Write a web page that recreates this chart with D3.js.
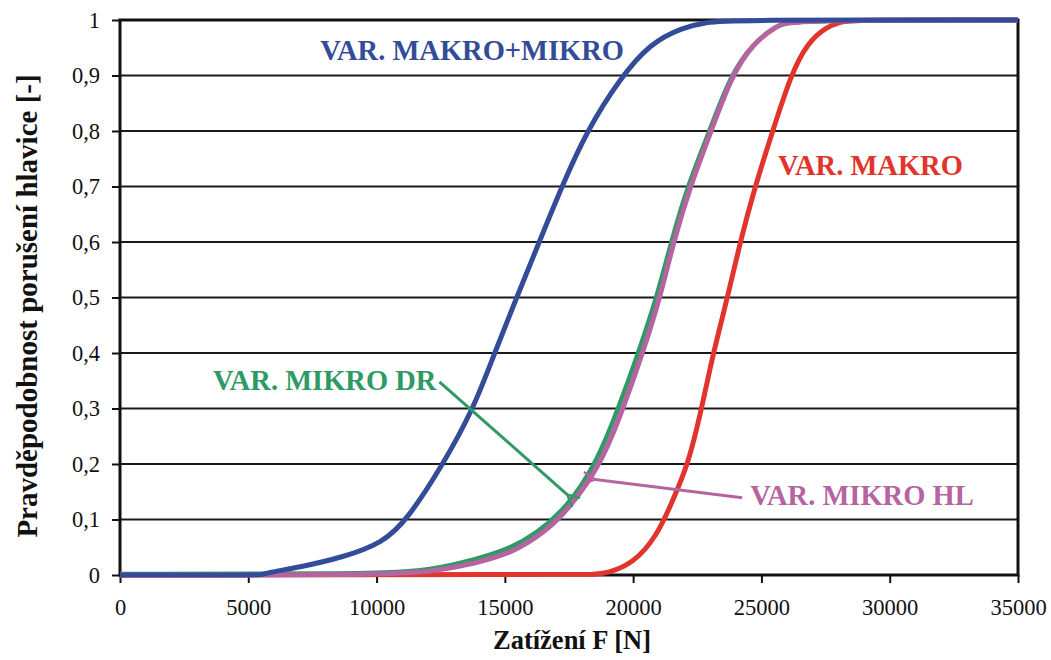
<!DOCTYPE html>
<html>
<head>
<meta charset="utf-8">
<script src="https://cdn.jsdelivr.net/npm/d3@7"></script>
<style>
  body { margin: 0; background: #fff; }
  svg text { font-family: "Liberation Serif", "DejaVu Serif", serif; }
  .tick-label { font-size: 22.5px; fill: #111; }
  .axis-title { font-weight: bold; fill: #111; }
  .curve-label { font-size: 28.5px; font-weight: bold; }
</style>
</head>
<body>
<div id="chart"></div>
<script>
// Pravděpodobnost porušení hlavice vs. zatížení F

// load [N]
const xTicks = [0, 5000, 10000, 15000, 20000, 25000, 30000, 35000];
const yTicks = [0, 0.1, 0.2, 0.3, 0.4, 0.5, 0.6, 0.7, 0.8, 0.9, 1];

const makroMikroF = [0, 5000, 5500, 5730, 7000, 8700, 10250, 11200, 12600, 13780, 14600, 15460, 16340, 17220, 18190, 19490, 20660, 21940, 22880, 23660, 35000];
const makroMikroP = [0, 0, 0, 0.004, 0.014, 0.032, 0.058, 0.10, 0.20, 0.30, 0.40, 0.50, 0.60, 0.70, 0.80, 0.895, 0.958, 0.987, 0.996, 1, 1];

const mikroDrF = [0, 9000, 10900, 12200, 13760, 15080, 16250, 17420, 18550, 19420, 20200, 20920, 21480, 22110, 22980, 23780, 24670, 25610, 26120, 35000];
const mikroDrP = [0.002, 0.002, 0.005, 0.01, 0.027, 0.045, 0.075, 0.122, 0.20, 0.30, 0.40, 0.50, 0.60, 0.70, 0.80, 0.90, 0.958, 0.99, 1, 1];

const mikroHlF = [0, 10000, 12200, 13760, 15320, 16640, 17540, 18750, 19610, 20370, 21050, 21570, 22220, 23040, 23840, 24670, 25610, 26120, 35000];
const mikroHlP = [0, 0, 0.006, 0.02, 0.04, 0.08, 0.122, 0.20, 0.30, 0.40, 0.50, 0.60, 0.70, 0.80, 0.90, 0.958, 0.99, 1, 1];

const makroF = [0, 17500, 18500, 18980, 19990, 20930, 21550, 22150, 22670, 23120, 23680, 24170, 24750, 25440, 26140, 26770, 27550, 28070, 28450, 35000];
const makroP = [0, 0.001, 0.001, 0.003, 0.02, 0.07, 0.135, 0.20, 0.30, 0.40, 0.50, 0.60, 0.70, 0.80, 0.90, 0.958, 0.988, 0.996, 1, 1];

// label text, colour, anchor (data coords)
const series = [
  { name: 'VAR. MAKRO', F: makroF, P: makroP, color: '#e0342c', width: 5, label: [25650, 0.721] },
  { name: 'VAR. MIKRO DR', F: mikroDrF, P: mikroDrP, color: '#2f9a66', width: 4.5, label: [3620, 0.333] },
  { name: 'VAR. MIKRO HL', F: mikroHlF, P: mikroHlP, color: '#b5649f', width: 5, label: [24560, 0.126] },
  { name: 'VAR. MAKRO+MIKRO', F: makroMikroF, P: makroMikroP, color: '#334c98', width: 5, label: [7800, 0.928] }
];

// arrows: [from F, from P, to F, to P]
const arrowDr = [12450, 0.348, 17430, 0.145];
const arrowHl = [24250, 0.139, 18520, 0.172];

const width = 1051;
const height = 660;
const margin = { top: 20, right: 33, bottom: 85, left: 120 };
const innerWidth = width - margin.left - margin.right;
const innerHeight = height - margin.top - margin.bottom;

const svg = d3.select('#chart')
  .append('svg')
  .attr('width', width)
  .attr('height', height)
  .style('display', 'block');

const defs = svg.append('defs');
series.forEach((s, i) => {
  defs.append('marker')
    .attr('id', 'arrow' + i)
    .attr('viewBox', '0 0 10 10')
    .attr('refX', 1)
    .attr('refY', 5)
    .attr('markerWidth', 5)
    .attr('markerHeight', 5)
    .attr('orient', 'auto-start-reverse')
    .attr('markerUnits', 'strokeWidth')
    .append('path')
    .attr('d', 'M9,1 L1,5 L9,9')
    .attr('fill', 'none')
    .attr('stroke', s.color)
    .attr('stroke-width', 1.6);
});

const g = svg.append('g')
  .attr('transform', `translate(${margin.left},${margin.top})`);

const x = d3.scaleLinear().domain([0, 35000]).range([0, innerWidth]);
const y = d3.scaleLinear().domain([0, 1]).range([innerHeight, 0]);

// gridlines
g.selectAll('.grid')
  .data(yTicks)
  .enter().append('line')
  .attr('x1', 0)
  .attr('x2', innerWidth)
  .attr('y1', d => y(d))
  .attr('y2', d => y(d))
  .attr('stroke', '#1a1a1a')
  .attr('stroke-width', 2);

// axes
const yAxis = g.append('g')
  .call(d3.axisLeft(y).tickValues(yTicks).tickSize(8).tickPadding(12)
    .tickFormat(d => d3.format('.1~f')(d).replace('.', ',')));
const xAxis = g.append('g')
  .attr('transform', `translate(0,${innerHeight})`)
  .call(d3.axisBottom(x).tickValues(xTicks).tickSize(8).tickPadding(16).tickFormat(d3.format('d')));

[yAxis, xAxis].forEach(a => {
  a.attr('font-family', null).attr('font-size', null);
  a.select('.domain').remove();
  a.selectAll('line').attr('stroke', '#111').attr('stroke-width', 2);
  a.selectAll('text').attr('class', 'tick-label').attr('fill', '#111');
});

// frame
g.append('rect')
  .attr('x', 0)
  .attr('y', 0)
  .attr('width', innerWidth)
  .attr('height', innerHeight)
  .attr('fill', 'none')
  .attr('stroke', '#111')
  .attr('stroke-width', 3);

// curves
const line = d3.line()
  .x(d => x(d[0]))
  .y(d => y(d[1]))
  .curve(d3.curveBasis);

series.forEach(s => {
  g.append('path')
    .datum(s.F.map((f, i) => [f, s.P[i]]))
    .attr('d', line)
    .attr('fill', 'none')
    .attr('stroke', s.color)
    .attr('stroke-width', s.width)
    .attr('stroke-linejoin', 'round');
});

// labels
series.forEach(s => {
  g.append('text')
    .attr('class', 'curve-label')
    .attr('x', x(s.label[0]))
    .attr('y', y(s.label[1]))
    .attr('fill', s.color)
    .text(s.name);
});

// arrows
[[arrowDr, 1], [arrowHl, 2]].forEach(([a, i]) => {
  g.append('line')
    .attr('x1', x(a[0]))
    .attr('y1', y(a[1]))
    .attr('x2', x(a[2]))
    .attr('y2', y(a[3]))
    .attr('stroke', series[i].color)
    .attr('stroke-width', 3)
    .attr('marker-end', `url(#arrow${i})`);
});

// axis titles
svg.append('text')
  .attr('class', 'axis-title')
  .attr('x', margin.left + innerWidth / 2 + 3)
  .attr('y', 649)
  .attr('text-anchor', 'middle')
  .style('font-size', '26.5px')
  .text('Zatížení F [N]');

svg.append('text')
  .attr('class', 'axis-title')
  .attr('transform', 'rotate(-90)')
  .attr('x', -306)
  .attr('y', 37)
  .attr('text-anchor', 'middle')
  .style('font-size', '29px')
  .text('Pravděpodobnost porušení hlavice [-]');
</script>
</body>
</html>
